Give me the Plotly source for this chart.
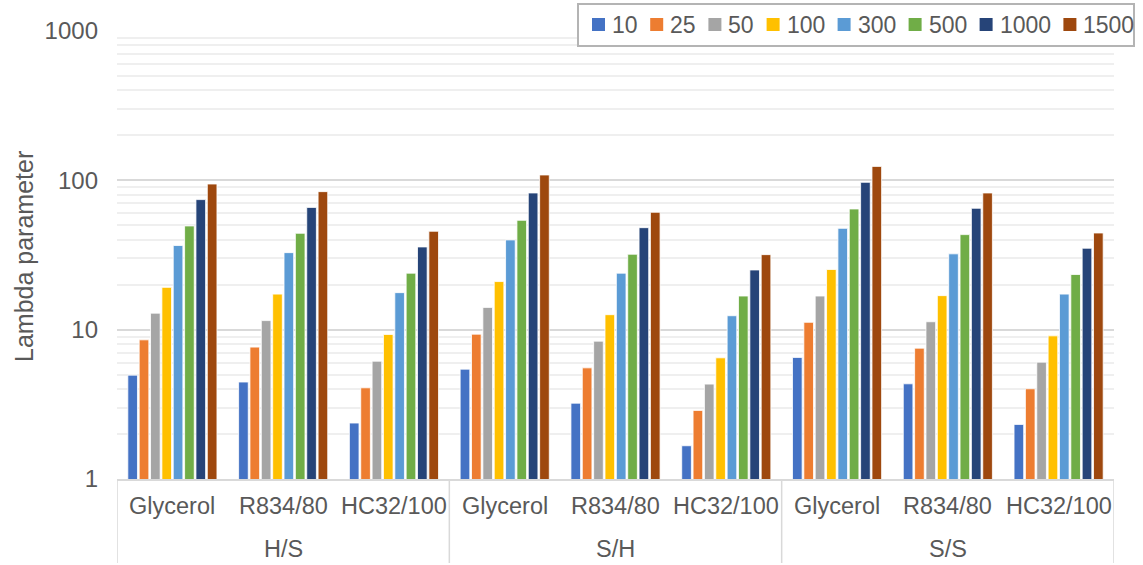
import plotly.graph_objects as go

# 区分（外側：組合せ、内側：潤滑油）
groups = ["H/S", "S/H", "S/S"]
fluids = ["Glycerol", "R834/80", "HC32/100"]
series_names = ["10", "25", "50", "100", "300", "500", "1000", "1500"]
colors = ["#4472C4", "#ED7D31", "#A5A5A5", "#FFC000",
          "#5B9BD5", "#70AD47", "#264478", "#9E480E"]

# 各系列の値（H/S: Gly, R834, HC32 | S/H: ... | S/S: ...）
v10 = [4.96, 4.46, 2.37, 5.44, 3.22, 1.67, 6.52, 4.34, 2.32]
v25 = [8.55, 7.64, 4.08, 9.33, 5.55, 2.88, 11.2, 7.52, 4.02]
v50 = [12.9, 11.5, 6.15, 14.1, 8.38, 4.32, 16.8, 11.3, 6.06]
v100 = [19.2, 17.3, 9.29, 21.0, 12.6, 6.48, 25.3, 16.9, 9.09]
v300 = [36.6, 32.8, 17.7, 39.9, 23.9, 12.4, 47.7, 32.2, 17.3]
v500 = [49.5, 44.2, 23.9, 54.0, 32.0, 16.8, 64.3, 43.3, 23.4]
v1000 = [74.3, 65.9, 35.8, 82.3, 48.2, 25.1, 97.0, 65.0, 35.1]
v1500 = [94.5, 84.0, 45.6, 108.6, 61.1, 31.8, 124.0, 82.3, 44.4]
values = [v10, v25, v50, v100, v300, v500, v1000, v1500]

inner = [f for _ in groups for f in fluids]
xpos = list(range(len(inner)))

W, H = 1143, 565
L, R, T, B = 117, 29, 31, 86
pw, ph = W - L - R, H - T - B
TXT = "#595959"
GRID = "#d9d9d9"


def px_x(p):  # ピクセル → paper座標
    return (p - L) / pw


def px_y(p):
    return (H - B - p) / ph


fig = go.Figure()
for name, col, vals in zip(series_names, colors, values):
    fig.add_trace(go.Bar(
        x=xpos, y=vals, name=name, showlegend=False,
        marker=dict(color=col, line=dict(color="white", width=0.8)),
    ))

annotations = []
shapes = []

# 縦軸タイトル
annotations.append(dict(x=px_x(24), y=px_y(257), xref="paper", yref="paper",
                        text="Lambda parameter", textangle=-90, showarrow=False,
                        xanchor="center", yanchor="middle",
                        font=dict(size=25, color=TXT)))

# 横軸ラベル（内側・外側）と区切り線
for i, lab in enumerate(inner):
    annotations.append(dict(x=i, y=px_y(506), xref="x", yref="paper", text=lab,
                            showarrow=False, font=dict(size=23.5, color=TXT),
                            xanchor="center", yanchor="middle"))
n = len(fluids)
for g, lab in enumerate(groups):
    annotations.append(dict(x=g * n + (n - 1) / 2, y=px_y(549), xref="x", yref="paper",
                            text=lab, showarrow=False, font=dict(size=23.5, color=TXT),
                            xanchor="center", yanchor="middle"))
for g in range(len(groups) + 1):
    shapes.append(dict(type="line", xref="x", yref="paper",
                       x0=g * n - 0.5, x1=g * n - 0.5, y0=0, y1=px_y(563),
                       line=dict(color=GRID, width=1.5)))

# 凡例（手作り）
shapes.append(dict(type="rect", xref="paper", yref="paper",
                   x0=px_x(578), x1=px_x(1134), y0=px_y(4), y1=px_y(46),
                   fillcolor="white", line=dict(color="#b4b4b4", width=2)))
sx = 592.0
for name, col in zip(series_names, colors):
    shapes.append(dict(type="rect", xref="paper", yref="paper",
                       x0=px_x(sx), x1=px_x(sx + 13), y0=px_y(31), y1=px_y(18),
                       fillcolor=col, line=dict(width=0)))
    annotations.append(dict(x=px_x(sx + 18), y=px_y(25), xref="paper", yref="paper",
                            text=name, showarrow=False, xanchor="left", yanchor="middle",
                            font=dict(size=23, color=TXT)))
    sx += 32.6 + 12.8 * len(name)

fig.update_layout(
    width=W, height=H,
    margin=dict(l=L, r=R, t=T, b=B, autoexpand=False),
    paper_bgcolor="white", plot_bgcolor="white",
    font=dict(family="Liberation Sans, Arial", size=24, color=TXT),
    barmode="group", bargap=0.18, bargroupgap=0.15,
    showlegend=False,
    annotations=annotations, shapes=shapes,
)

fig.update_yaxes(
    type="log", range=[0, 3], dtick=1, tickformat="d",
    showgrid=True, gridcolor=GRID, gridwidth=1.5,
    minor=dict(showgrid=True, gridcolor="#efefef", gridwidth=1.5, dtick="D1"),
    zeroline=False, showline=False, ticks="", ticklabelstandoff=18,
    tickfont=dict(size=24, color=TXT),
    automargin=False,
)
fig.update_xaxes(
    range=[-0.5, len(inner) - 0.5], showline=True, linecolor=GRID, linewidth=1.5,
    showticklabels=False, ticks="", showgrid=False, zeroline=False, automargin=False,
)

# ページ余白をなくして図を左上に合わせる
fig.write_html("out.html", config={"displayModeBar": False},
               post_script="document.body.style.margin='0';")
